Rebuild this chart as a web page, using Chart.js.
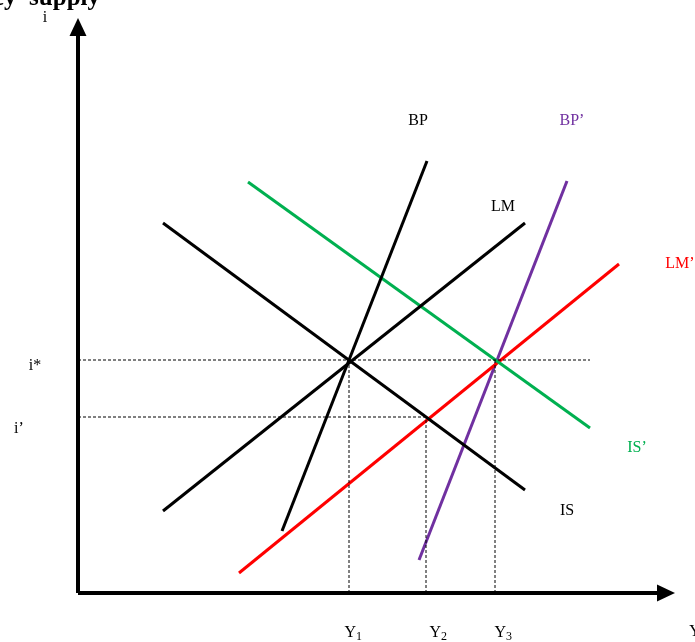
<!DOCTYPE html>
<html>
<head>
<meta charset="utf-8">
<script src="https://cdn.jsdelivr.net/npm/chart.js@4.4.1/dist/chart.umd.min.js"></script>
<style>
  body { margin: 0; background: #fff; }
  canvas { display: block; }
</style>
</head>
<body>
<canvas id="chart" width="695" height="642"></canvas>
<script>
// Curve endpoints (x = output Y, y = interest rate i), origin at the axis corner
const isCurve = [{ x: 85, y: 370 }, { x: 447, y: 103 }];
const lmCurve = [{ x: 85, y: 82 }, { x: 447, y: 370 }];
const bpCurve = [{ x: 204, y: 62 }, { x: 349, y: 432 }];
const isPrime = [{ x: 170, y: 411 }, { x: 512, y: 165 }];
const lmPrime = [{ x: 161, y: 20 }, { x: 541, y: 329 }];
const bpPrime = [{ x: 341, y: 33 }, { x: 489, y: 412 }];

// Equilibrium levels
const yLevels = [271, 348, 417];      // Y1, Y2, Y3
const yLabels = ['1', '2', '3'];
const iStar = 233;
const iPrimeLevel = 176;
const iStarReach = 512;   // dashed i* line runs out to here
const iPrimeReach = 348;

// Axis extents (tips of the arrows)
const xAxisEnd = 597;
const yAxisEnd = 575;

// Visible window: pixel offset of the origin inside the 695x642 canvas
const originX = 78;
const originY = 593;

// Curve labels: text, position, colour
const curveLabels = [
  { text: 'BP', x: 340, y: 472, color: '#000' },
  { text: 'BP\u2019', x: 494, y: 472, color: '#7030a0' },
  { text: 'LM', x: 425, y: 386, color: '#000' },
  { text: 'LM\u2019', x: 602, y: 329, color: '#ff0000' },
  { text: 'IS\u2019', x: 559, y: 145, color: '#00b050' },
  { text: 'IS', x: 489, y: 82, color: '#000' }
];

function line(data, color, width) {
  return {
    data: data,
    borderColor: color,
    borderWidth: width,
    pointRadius: 0,
    pointHoverRadius: 0,
    showLine: true,
    fill: false
  };
}

function dashed(data) {
  const ds = line(data, '#000', 1);
  ds.borderDash = [3, 2];
  return ds;
}

const datasets = [
  // axes (arrow heads are drawn by the plugin)
  line([{ x: 0, y: 0 }, { x: 0, y: yAxisEnd - 14 }], '#000', 4),
  line([{ x: 0, y: 0 }, { x: xAxisEnd - 14, y: 0 }], '#000', 4),
  // dashed guide lines
  dashed([{ x: 0, y: iStar }, { x: iStarReach, y: iStar }]),
  dashed([{ x: 0, y: iPrimeLevel }, { x: iPrimeReach, y: iPrimeLevel }]),
  dashed([{ x: yLevels[0], y: 0 }, { x: yLevels[0], y: iStar }]),
  dashed([{ x: yLevels[1], y: 0 }, { x: yLevels[1], y: iPrimeLevel }]),
  dashed([{ x: yLevels[2], y: 0 }, { x: yLevels[2], y: iStar }]),
  // curves
  line(isCurve, '#000', 3),
  line(lmCurve, '#000', 3),
  line(bpCurve, '#000', 3),
  line(isPrime, '#00b050', 3),
  line(lmPrime, '#ff0000', 3),
  line(bpPrime, '#7030a0', 3)
];

const textPlugin = {
  id: 'textLabels',
  afterDatasetsDraw(chart) {
    const ctx = chart.ctx;
    const xs = chart.scales.x;
    const ys = chart.scales.y;
    const px = v => xs.getPixelForValue(v);
    const py = v => ys.getPixelForValue(v);
    ctx.save();

    // arrow heads
    ctx.fillStyle = '#000';
    ctx.beginPath();
    ctx.moveTo(px(0), py(yAxisEnd));
    ctx.lineTo(px(0) - 8.5, py(yAxisEnd - 18));
    ctx.lineTo(px(0) + 8.5, py(yAxisEnd - 18));
    ctx.closePath();
    ctx.fill();
    ctx.beginPath();
    ctx.moveTo(px(xAxisEnd), py(0));
    ctx.lineTo(px(xAxisEnd - 18), py(0) - 8.5);
    ctx.lineTo(px(xAxisEnd - 18), py(0) + 8.5);
    ctx.closePath();
    ctx.fill();

    ctx.textAlign = 'center';
    ctx.textBaseline = 'middle';
    ctx.font = '16px "Liberation Serif", serif';
    curveLabels.forEach(l => {
      ctx.fillStyle = l.color;
      ctx.fillText(l.text, px(l.x), py(l.y));
    });

    ctx.fillStyle = '#000';
    ctx.fillText('i', px(-33), py(575));
    ctx.fillText('i*', px(-43), py(227));
    ctx.fillText('i\u2019', px(-59), py(164));
    yLabels.forEach((t, k) => {
      const cx = px(yLevels[k] + [5, 13, 9][k]);
      ctx.font = '16px "Liberation Serif", serif';
      ctx.textAlign = 'right';
      ctx.fillText('Y', cx + 2, py(-40));
      ctx.font = '12px "Liberation Serif", serif';
      ctx.textAlign = 'left';
      ctx.fillText(t, cx + 2, py(-44));
    });
    ctx.font = '16px "Liberation Serif", serif';
    ctx.textAlign = 'center';
    ctx.fillText('Y', px(617), py(-39));

    // title, cut off at the top edge
    ctx.font = 'bold 25px "Liberation Serif", serif';
    ctx.textAlign = 'right';
    ctx.textBaseline = 'alphabetic';
    ctx.fillText('Effect of an increase in money\u2002supply', px(22), py(588));
    ctx.restore();
  }
};

const chart = new Chart(document.getElementById('chart'), {
  type: 'scatter',
  data: { datasets: datasets },
  options: {
    responsive: false,
    animation: false,
    layout: { padding: 0 },
    plugins: {
      legend: { display: false },
      tooltip: { enabled: false }
    },
    scales: {
      x: { type: 'linear', min: -originX, max: 695 - originX, display: false },
      y: { type: 'linear', min: originY - 642, max: originY, display: false }
    },
    elements: { line: { tension: 0, borderCapStyle: 'butt' } }
  },
  plugins: [textPlugin]
});

// The line overflow padding shrinks the chart area a little; widen the
// scale window so one unit is one pixel measured from the canvas edge.
for (let pass = 0; pass < 2; pass++) {
  const area = chart.chartArea;
  chart.options.scales.x.min = area.left - originX;
  chart.options.scales.x.max = area.right - originX;
  chart.options.scales.y.max = originY - area.top;
  chart.options.scales.y.min = originY - area.bottom;
  chart.update();
}
</script>
</body>
</html>
